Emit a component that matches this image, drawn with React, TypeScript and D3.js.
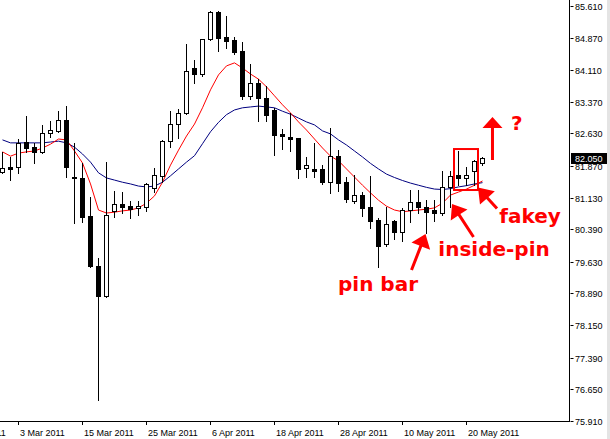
import React from 'react';
import * as d3 from 'd3';

// ---- data ----
const dates = [
  '2011-03-01','2011-03-02','2011-03-03','2011-03-04','2011-03-07','2011-03-08','2011-03-09','2011-03-10','2011-03-11','2011-03-14',
  '2011-03-15','2011-03-16','2011-03-17','2011-03-18','2011-03-21','2011-03-22','2011-03-23','2011-03-24','2011-03-25','2011-03-28',
  '2011-03-29','2011-03-30','2011-03-31','2011-04-01','2011-04-04','2011-04-05','2011-04-06','2011-04-07','2011-04-08','2011-04-11',
  '2011-04-12','2011-04-13','2011-04-14','2011-04-15','2011-04-18','2011-04-19','2011-04-20','2011-04-21','2011-04-22','2011-04-25',
  '2011-04-26','2011-04-27','2011-04-28','2011-04-29','2011-05-02','2011-05-03','2011-05-04','2011-05-05','2011-05-06','2011-05-09',
  '2011-05-10','2011-05-11','2011-05-12','2011-05-13','2011-05-16','2011-05-17','2011-05-18','2011-05-19','2011-05-20','2011-05-23',
  '2011-05-24',
];

const openP = [
  81.74, 81.85, 81.84, 82.42, 82.31, 82.20, 82.63, 82.69, 82.94, 81.61,
  81.58, 80.70, 79.53, 78.84, 80.82, 80.98, 80.93, 80.88, 80.92, 81.35,
  81.64, 82.45, 82.84, 83.10, 84.15, 84.01, 84.85, 85.46, 84.88, 84.81,
  84.56, 83.51, 83.80, 83.46, 83.18, 82.61, 82.55, 82.52, 81.82, 81.80,
  81.79, 81.50, 82.11, 81.49, 81.05, 81.19, 80.91, 80.61, 80.04, 80.58,
  80.32, 80.84, 81.02, 80.91, 80.84, 80.76, 81.37, 81.66, 81.58, 81.75,
  81.95,
];
const highP = [
  82.20, 82.09, 82.49, 83.04, 82.40, 82.83, 82.92, 83.15, 83.27, 82.40,
  81.95, 81.14, 79.73, 81.97, 81.28, 81.25, 81.05, 81.05, 81.48, 81.82,
  82.48, 83.15, 83.20, 84.71, 84.35, 84.85, 85.49, 85.49, 85.38, 84.88,
  84.76, 84.25, 83.90, 83.75, 83.23, 82.73, 83.10, 82.53, 82.08, 82.41,
  81.90, 82.76, 82.24, 81.61, 81.66, 81.25, 81.64, 80.65, 80.90, 80.61,
  80.89, 81.31, 81.31, 81.07, 81.07, 81.75, 81.75, 82.23, 81.85, 82.01,
  82.07,
];
const lowP = [
  81.70, 81.54, 81.70, 82.20, 81.93, 82.18, 82.54, 82.67, 81.62, 80.54,
  80.57, 79.51, 76.40, 78.80, 80.68, 80.76, 80.65, 80.72, 80.82, 81.27,
  81.50, 82.32, 82.53, 83.08, 83.82, 83.98, 84.81, 84.56, 84.63, 84.48,
  83.44, 83.44, 82.92, 82.93, 82.13, 82.27, 82.23, 81.58, 81.61, 81.62,
  81.45, 81.23, 81.28, 81.02, 81.00, 80.70, 80.41, 79.51, 80.00, 80.16,
  80.12, 80.57, 80.76, 80.30, 80.59, 80.72, 80.90, 81.42, 81.42, 81.42,
  81.89,
];
const closeP = [
  81.82, 81.81, 82.40, 82.28, 82.20, 82.63, 82.71, 82.94, 81.85, 81.58,
  80.68, 79.53, 78.84, 80.72, 80.98, 80.92, 80.86, 80.93, 81.45, 81.65,
  82.45, 82.84, 83.10, 84.09, 84.01, 84.84, 85.46, 84.87, 84.80, 84.54,
  83.51, 83.80, 83.47, 83.05, 82.59, 82.56, 82.51, 81.81, 81.89, 81.76,
  81.49, 82.11, 81.48, 81.09, 81.18, 80.88, 80.58, 80.01, 80.51, 80.32,
  80.84, 81.02, 80.90, 80.79, 80.76, 81.37, 81.64, 81.58, 81.66, 81.99,
  82.05,
];

const maFast = [
  82.20, 82.10, 82.17, 82.20, 82.22, 82.29, 82.38, 82.50, 82.48, 82.22,
  81.94, 81.45, 80.84, 80.77, 80.79, 80.82, 80.84, 80.89, 81.00, 81.17,
  81.49, 81.89, 82.24, 82.57, 82.85, 83.23, 83.65, 84.00, 84.21, 84.28,
  84.16, 84.02, 83.90, 83.72, 83.51, 83.30, 83.11, 82.90, 82.71, 82.50,
  82.29, 82.10, 81.99, 81.80, 81.61, 81.42, 81.24, 81.07, 80.93, 80.84,
  80.80, 80.82, 80.84, 80.86, 80.89, 81.00, 81.19, 81.26, 81.33, 81.42,
  81.52,
];
const maSlow = [
  82.48, 82.41, 82.41, 82.41, 82.41, 82.41, 82.43, 82.45, 82.41, 82.31,
  82.15, 81.96, 81.71, 81.59, 81.54, 81.49, 81.45, 81.40, 81.38, 81.40,
  81.49, 81.64, 81.80, 81.96, 82.11, 82.39, 82.67, 82.89, 83.07, 83.18,
  83.23, 83.25, 83.27, 83.25, 83.23, 83.15, 83.08, 82.99, 82.90, 82.83,
  82.69, 82.62, 82.48, 82.36, 82.22, 82.08, 81.93, 81.80, 81.68, 81.60,
  81.53, 81.47, 81.42, 81.37, 81.33, 81.32, 81.34, 81.38, 81.41, 81.45,
  81.48,
];

const priceTicks = [85.61, 84.87, 84.11, 83.37, 82.63, 81.87, 81.13, 80.39, 79.63, 78.89, 78.15, 77.39, 76.65, 75.91];
const dateTickIndex = [-6, 2, 10, 18, 26, 34, 42, 50, 58];
const dateTickLabels = ['21 Feb 2011', '3 Mar 2011', '15 Mar 2011', '25 Mar 2011', '6 Apr 2011', '18 Apr 2011', '28 Apr 2011', '10 May 2011', '20 May 2011'];
const lastPrice = 82.05;

// annotations (data coordinates: bar index, price)
const noteTexts = ['pin bar', 'inside-pin', 'fakey', '?'];
const noteIdx = [42, 54.54, 62.16, 63.63];
const notePrice = [78.946, 79.776, 80.548, 82.711];
const arrowTailIdx = [51.19, 58.94, 61.875, 61.31];
const arrowTailPrice = [79.437, 80.209, 80.875, 82.009];
const arrowTipIdx = [52.94, 56.25, 59.5, 61.31];
const arrowTipPrice = [80.279, 80.98, 81.366, 83.015];
const arrowHeadLen = [13, 13, 14, 11];
const boxIdx = [56.5, 59.5];
const boxPrice = [82.266, 81.308];

const W = 610;
const H = 439;
const AXIS_X = 569.5;
const AXIS_Y = 421.5;
const RED = '#ff0000';
const AXIS_FONT = '"Liberation Sans", Arial, sans-serif';

function arrowPath(tx: number, ty: number, px: number, py: number, headLen: number, headHalf: number, shaftHalf: number) {
  const dx = px - tx, dy = py - ty;
  const len = Math.hypot(dx, dy);
  const ux = dx / len, uy = dy / len;
  const nx = -uy, ny = ux;
  const bx = px - ux * headLen, by = py - uy * headLen;
  const pts: [number, number][] = [
    [tx + nx * shaftHalf, ty + ny * shaftHalf],
    [bx + nx * shaftHalf, by + ny * shaftHalf],
    [bx + nx * headHalf, by + ny * headHalf],
    [px, py],
    [bx - nx * headHalf, by - ny * headHalf],
    [bx - nx * shaftHalf, by - ny * shaftHalf],
    [tx - nx * shaftHalf, ty - ny * shaftHalf],
  ];
  return 'M' + pts.map(p => p[0].toFixed(2) + ',' + p[1].toFixed(2)).join('L') + 'Z';
}

export default function App() {
  const x = d3.scaleLinear().domain([0, 60]).range([2, 482]);
  const y = d3.scaleLinear().domain([75.91, 85.61]).range([420.9, 6]);
  const px = (i: number) => Math.round(x(i));
  const py = (v: number) => Math.round(y(v));

  const line = d3.line<number>().x((_, i) => x(i) + 0.5).y(v => y(v));

  const candles = dates.map((d, i) => {
    const o = openP[i], h = highP[i], l = lowP[i], c = closeP[i];
    const cx = px(i);
    const top = py(Math.max(o, c));
    const bot = py(Math.min(o, c));
    const bull = c >= o;
    return (
      <g key={d}>
        <line x1={cx + 0.5} x2={cx + 0.5} y1={py(h)} y2={py(l) + 1} stroke="#000" strokeWidth={1} />
        <rect x={cx - 1.5} y={top + 0.5} width={4} height={Math.max(bot - top, 1)} fill={bull ? '#fff' : '#000'} stroke="#000" strokeWidth={1} />
      </g>
    );
  });

  const lastY = y(lastPrice);

  return (
    <svg width={W} height={H} style={{ position: 'absolute', left: 0, top: 0, display: 'block', background: '#fff' }}>
      <rect x={0} y={0} width={W} height={H} fill="#fff" />
      {/* moving averages */}
      <path d={line(maSlow) || ''} fill="none" stroke="#000080" strokeWidth={1} />
      <path d={line(maFast) || ''} fill="none" stroke="#ff0000" strokeWidth={1} />
      {candles}

      {/* frame */}
      <line x1={AXIS_X} x2={AXIS_X} y1={0} y2={AXIS_Y + 0.5} stroke="#000" />
      <line x1={0} x2={AXIS_X} y1={AXIS_Y} y2={AXIS_Y} stroke="#000" />

      {/* price axis */}
      {priceTicks.map(v => {
        const ty = py(v);
        return (
          <g key={v}>
            <line x1={AXIS_X + 1} x2={AXIS_X + 4} y1={ty + 0.5} y2={ty + 0.5} stroke="#000" />
            <text x={575} y={ty + 0.5} dy="0.35em" fontFamily={AXIS_FONT} fontSize={9} fill="#000">{v.toFixed(3)}</text>
          </g>
        );
      })}
      <rect x={571} y={Math.round(lastY) - 5} width={36} height={11} fill="#000" />
      <text x={575} y={Math.round(lastY) + 0.5} dy="0.35em" fontFamily={AXIS_FONT} fontSize={9} fill="#fff">{lastPrice.toFixed(3)}</text>

      {/* date axis */}
      {dateTickIndex.map((idx, k) => {
        const tx = px(idx);
        return (
          <g key={idx}>
            <line x1={tx + 0.5} x2={tx + 0.5} y1={AXIS_Y} y2={AXIS_Y + 3.5} stroke="#000" />
            <text x={tx + 2} y={433} dy="0.35em" fontFamily={AXIS_FONT} fontSize={9} fill="#000">{dateTickLabels[k]}</text>
          </g>
        );
      })}

      {/* right window edge */}
      <rect x={607} y={0} width={3} height={H} fill="#e4e4e4" />

      {/* annotations */}
      <rect x={x(boxIdx[0])} y={y(boxPrice[0])} width={x(boxIdx[1]) - x(boxIdx[0])} height={y(boxPrice[1]) - y(boxPrice[0])} fill="none" stroke={RED} strokeWidth={2} />
      {arrowTailIdx.map((_, k) => (
        <path key={'a' + k}
          d={arrowPath(x(arrowTailIdx[k]), y(arrowTailPrice[k]), x(arrowTipIdx[k]), y(arrowTipPrice[k]), arrowHeadLen[k], 10, 1.5)}
          fill={RED} />
      ))}
      {noteTexts.map((t, k) => (
        <text key={t} x={x(noteIdx[k])} y={y(notePrice[k])} fontFamily='"DejaVu Sans", Verdana, sans-serif' fontWeight="bold" fontSize={20} fill={RED}>{t}</text>
      ))}
    </svg>
  );
}
